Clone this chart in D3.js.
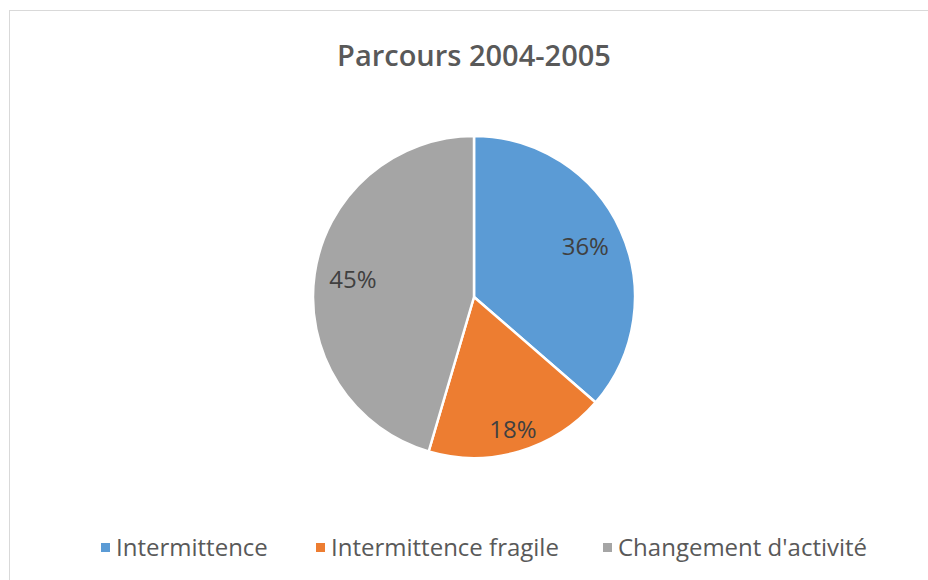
<!DOCTYPE html>
<html>
<head>
<meta charset="utf-8">
<script src="https://cdn.jsdelivr.net/npm/d3@7"></script>
<style>
  body { margin: 0; background: #fff; }
  text { font-family: "Open Sans", "Noto Sans", sans-serif; }
</style>
</head>
<body>
<svg id="chart" width="928" height="580"></svg>
<script>
// data
const categories = ["Intermittence", "Intermittence fragile", "Changement d'activité"];
const values = [36, 18, 45];
const colors = ["#5b9bd5", "#ed7d31", "#a5a5a5"];
const title = "Parcours 2004-2005";

const svg = d3.select("#chart"),
    width = +svg.attr("width"),
    height = +svg.attr("height");

// chart frame
svg.append("rect")
    .attr("x", 9.5).attr("y", 10.5)
    .attr("width", width).attr("height", height)
    .attr("fill", "#fff")
    .attr("stroke", "#d9d9d9");

svg.append("text")
    .attr("x", 474).attr("y", 66)
    .attr("text-anchor", "middle")
    .attr("font-size", 29)
    .attr("font-weight", 600)
    .attr("fill", "#595959")
    .text(title);

const cx = 474, cy = 297, r = 161;
const data = categories.map((c, i) => ({ name: c, value: values[i], color: colors[i] }));

const pie = d3.pie().sort(null).value(d => d.value);
const arc = d3.arc().innerRadius(0).outerRadius(r);
const arcs = pie(data);

const g = svg.append("g").attr("transform", `translate(${cx},${cy})`);

g.selectAll("path")
  .data(arcs)
  .enter().append("path")
    .attr("d", arc)
    .attr("fill", d => d.data.color)
    .attr("stroke", "#fff")
    .attr("stroke-width", 2.5)
    .attr("stroke-linejoin", "round");

// label radius per slice (best fit in the original)
const labelRadius = [0.76, 0.86, 0.76];
const total = d3.sum(values);
const fmt = d3.format(".0%");

g.selectAll("text.lbl")
  .data(arcs)
  .enter().append("text")
    .attr("class", "lbl")
    .attr("transform", (d, i) => {
      const lr = r * labelRadius[i];
      return `translate(${d3.arc().innerRadius(lr).outerRadius(lr).centroid(d)})`;
    })
    .attr("text-anchor", "middle")
    .attr("dy", "0.35em")
    .attr("font-size", 24)
    .attr("font-weight", 500)
    .attr("fill", "#404040")
    .text(d => fmt(Math.floor(d.data.value / total * 100) / 100));

// legend
const legendX = [101, 316, 603];
const legend = svg.append("g").selectAll("g")
  .data(data)
  .enter().append("g")
    .attr("transform", (d, i) => `translate(${legendX[i]},548)`);

legend.append("rect")
    .attr("x", 0).attr("y", -5)
    .attr("width", 9).attr("height", 9)
    .attr("fill", d => d.color);

legend.append("text")
    .attr("x", 15)
    .attr("dy", "0.35em")
    .attr("font-size", 24)
    .attr("fill", "#595959")
    .text(d => d.name);
</script>
</body>
</html>
